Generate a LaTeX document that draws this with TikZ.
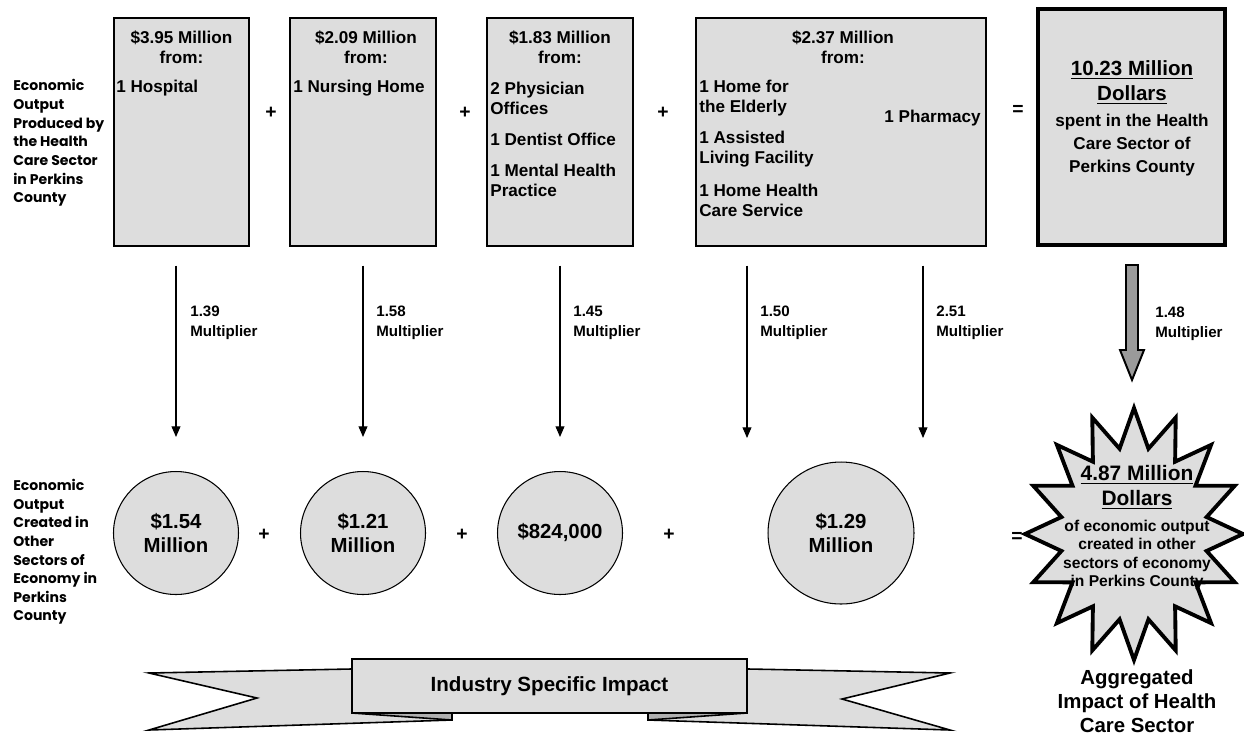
\documentclass[tikz,border=0pt]{standalone}
\usepackage{fontspec}
\setmainfont{Liberation Sans}
\newfontfamily\gothic{Poppins}
\usepackage{tikz}
\usetikzlibrary{arrows.meta}
\usetikzlibrary{shapes.geometric}
\newcommand{\boldsize}[2]{\fontsize{#1}{#2}\selectfont\bfseries}
\definecolor{panel}{HTML}{DDDDDD}
\definecolor{fold}{HTML}{B0B0B0}
\definecolor{shaft}{HTML}{9A9A9A}

\begin{document}
\begin{tikzpicture}[x=0.02cm, y=-0.02cm,
    box/.style={draw, fill=panel, line width=0.7pt, inner sep=0},
    head/.style={align=center, inner sep=0, font=\boldsize{9.75}{11.3}},
    item/.style={align=left, anchor=west, inner sep=0, font=\boldsize{9.75}{11.3}},
    mult/.style={-{Triangle[width=5pt,length=6pt]}, line width=0.6pt, shorten <=0.38cm},
    mlabel/.style={align=left, anchor=west, inner sep=0, font=\boldsize{8.6}{11.3}},
    blob/.style={draw, ellipse, fill=panel, line width=0.6pt, align=center, inner sep=0, font=\boldsize{11.6}{14.2}},
    op/.style={inner sep=0, font=\boldsize{11}{13}},
    side/.style={align=left, anchor=west, inner sep=0, font=\gothic\fontsize{8}{10.6}\selectfont\bfseries},
    band/.style={draw, fill=panel, line width=0.9pt, line join=miter}]
  \useasboundingbox (0,0) rectangle (1244,735);

  \node[side] (top side) at (13,143) {Economic\\Output\\Produced by\\the Health\\Care Sector\\in Perkins\\County};
  \node[side] (low side) at (13,552) {Economic\\Output\\Created in\\Other\\Sectors of\\Economy in\\Perkins\\County};

  \node[box, minimum width=2.7cm, minimum height=4.56cm] (b1) at (181.5,132) {};
  \node[box, minimum width=2.92cm, minimum height=4.56cm] (b2) at (363,132) {};
  \node[box, minimum width=2.92cm, minimum height=4.56cm] (b3) at (560,132) {};
  \node[box, minimum width=5.8cm, minimum height=4.56cm] (b4) at (841,132) {};
  \node[box, line width=2.3pt, minimum width=3.74cm, minimum height=4.72cm] (b5) at (1131.5,127) {};

  \node[head] (h1) at (181.5,47) {\$3.95 Million\\from:};
  \node[head] (h2) at (366,47) {\$2.09 Million\\from:};
  \node[head] (h3) at (560,47) {\$1.83 Million\\from:};
  \node[head] (h4) at (843,47) {\$2.37 Million\\from:};

  \node[item] (hospital) at (116,88) {1 Hospital};
  \node[item] (nursing) at (293,88) {1 Nursing Home};
  \node[item] (physician) at (490,98) {2 Physician\\Offices};
  \node[item] (dentist) at (490,139) {1 Dentist Office};
  \node[item] (mental) at (490,180) {1 Mental Health\\Practice};
  \node[item] (elderly) at (699,98) {1 Home for\\the Elderly};
  \node[item] (assisted) at (699,149.5) {1 Assisted\\Living Facility};
  \node[item] (homecare) at (699,200.5) {1 Home Health\\Care Service};
  \node[item, anchor=east] (pharmacy) at (981,118) {1 Pharmacy};

  \node[op] (p1) at (271,113) {+};
  \node[op] (p2) at (465,113) {+};
  \node[op] (p3) at (663,113) {+};
  \node[op] (eq1) at (1018,110) {=};

  \node[head, font=\boldsize{11.7}{14.2}] (total) at (1132,82.5) {\underline{10.23 Million}\\\underline{Dollars}};
  \node[head, font=\boldsize{9.75}{13}] (spent) at (1132,145) {spent in the Health\\Care Sector of\\Perkins County};

  \node[blob, minimum width=2.5cm, minimum height=2.46cm] (c1) at (176,533) {\$1.54\\Million};
  \node[blob, minimum width=2.5cm, minimum height=2.46cm] (c2) at (363,533) {\$1.21\\Million};
  \node[blob, minimum width=2.5cm, minimum height=2.46cm] (c3) at (560,533) {\$824,000};
  \node[blob, minimum width=2.92cm, minimum height=2.84cm] (c4) at (841,533) {\$1.29\\Million};

  \node[op] (p4) at (264,535) {+};
  \node[op] (p5) at (462,535) {+};
  \node[op] (p6) at (669,535) {+};
  \node[op] (eq2) at (1017,537) {=};

  \coordinate (t4) at (747,438);
  \coordinate (t5) at (923,438);
  \draw[mult, shorten >=0.68cm] (b1.south -| c1) -- (c1);
  \draw[mult, shorten >=0.68cm] (b2.south -| c2) -- (c2);
  \draw[mult, shorten >=0.68cm] (b3.south -| c3) -- (c3);
  \draw[mult] (b4.south -| t4) -- (t4);
  \draw[mult] (b4.south -| t5) -- (t5);

  \node[mlabel] (m1) at (190,323) {1.39\\Multiplier};
  \node[mlabel] (m2) at (376,323) {1.58\\Multiplier};
  \node[mlabel] (m3) at (573,323) {1.45\\Multiplier};
  \node[mlabel] (m4) at (760,323) {1.50\\Multiplier};
  \node[mlabel] (m5) at (936,323) {2.51\\Multiplier};
  \node[mlabel] (m6) at (1155,324) {1.48\\Multiplier};

  \coordinate (tip) at (1132,380);
  \draw[fill=shaft, line width=1.1pt, line join=miter] (b5.south -| tip) ++(-6,18) -- ++(12,0) -- ++(0,85) -- ++(6,0) -- (tip) -- ++(-12,-30) -- ++(6,0) -- cycle;

  \coordinate (sc) at (1134,534);
  \draw[fill=panel, line width=2.2pt, line join=miter, shift={(sc)}] (90:109 and 126)
    \foreach \a in {90,112.5,...,427.5} { -- ({\a+11.25}:74 and 87) -- ({\a+22.5}:109 and 126) } -- cycle;
  \node[head, font=\boldsize{11.9}{14.2}] (burst) at (1137,487.5) {\underline{4.87 Million}\\\underline{Dollars}};
  \node[head, font=\boldsize{8.9}{10.5}] (created) at (1137,555) {of economic output\\created in other\\sectors of economy\\in Perkins County};
  \node[head, font=\boldsize{11.6}{13.6}] (aggregate) at (1137,701) {Aggregated\\Impact of Health\\Care Sector};

  \draw[band] (149,673) -- (452,667) -- (452,720) -- (149,730) -- (257,698) -- cycle;
  \draw[band] (950,673) -- (648,667) -- (648,720) -- (950,730) -- (842,699) -- cycle;
  \draw[band, fill=fold] (352,713) -- (452,720) -- (452,713) -- cycle;
  \draw[band, fill=fold] (747,713) -- (648,720) -- (648,713) -- cycle;
  \node[box, line width=0.9pt, minimum width=7.9cm, minimum height=1.08cm, font=\boldsize{11.7}{14}] (banner) at (549.5,686) {Industry Specific Impact};
\end{tikzpicture}
\end{document}
